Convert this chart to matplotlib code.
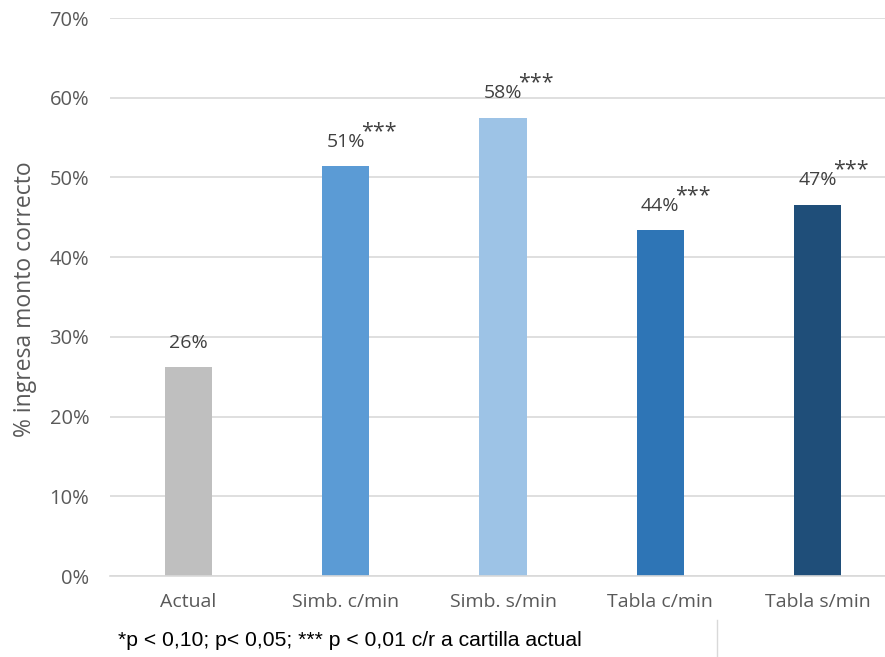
import matplotlib
matplotlib.use("Agg")
import matplotlib.pyplot as plt
from matplotlib.lines import Line2D

categories = ["Actual", "Simb. c/min", "Simb. s/min", "Tabla c/min", "Tabla s/min"]
values = [0.262, 0.514, 0.575, 0.434, 0.466]
labels = ["26%", "51%", "58%", "44%", "47%"]
stars = ["", "***", "***", "***", "***"]
colors = ["#BFBFBF", "#5B9BD5", "#9DC3E6", "#2E75B6", "#1F4E79"]
yticks = [0, 0.1, 0.2, 0.3, 0.4, 0.5, 0.6, 0.7]
ytick_labels = ["0%", "10%", "20%", "30%", "40%", "50%", "60%", "70%"]

plt.rcParams['font.family'] = ['Open Sans', 'DejaVu Sans']

W, H = 885, 657
fig = plt.figure(figsize=(W / 100, H / 100), dpi=100)
ax = fig.add_axes([110 / W, (H - 576) / H, 1 - 110 / W, (576 - 18) / H])

x = list(range(len(categories)))
ax.bar(x, values, width=0.30, color=colors, zorder=3)
ax.set_xlim(-0.5, 4.43)
ax.set_ylim(0, 0.7)
ax.set_yticks(yticks)
ax.set_yticklabels(ytick_labels)
ax.set_xticks(x)
ax.set_xticklabels(categories)
ax.tick_params(axis='both', length=0, labelcolor="#595959")
ax.tick_params(axis='x', pad=12, labelsize=14)
ax.tick_params(axis='y', pad=15, labelsize=14.5)
ax.grid(axis='y', color="#D9D9D9", linewidth=1.2, zorder=0)
for s in ["top", "right", "left"]:
    ax.spines[s].set_visible(False)
ax.spines["bottom"].set_color("#D9D9D9")
ax.spines["bottom"].set_linewidth(1.2)
ax.spines["bottom"].set_zorder(4)

for xi, v, lab, st in zip(x, values, labels, stars):
    ax.annotate(lab, (xi, v), xytext=(0, 14), textcoords="offset points",
                ha="center", va="baseline", fontsize=14, color="#404040")
    if st:
        ax.annotate(st, (xi, v), xytext=(11, 21), textcoords="offset points",
                    ha="left", va="baseline", fontsize=15.5, color="#404040")

fig.text(25 / W, 1 - 299 / H, "% ingresa monto correcto", rotation=90,
         ha="center", va="center", fontsize=16.5, color="#595959")

fig.text(118 / W, 1 - 640 / H, "*p < 0,10; p< 0,05; *** p < 0,01 c/r a cartilla actual",
         ha="left", va="center", fontsize=15.2, color="black",
         family=["Liberation Sans", "DejaVu Sans"])

fig.add_artist(Line2D([717 / W, 717 / W], [0, 1 - 620 / H], color="#D9D9D9", linewidth=1))

fig.savefig("out.png", dpi=100)
